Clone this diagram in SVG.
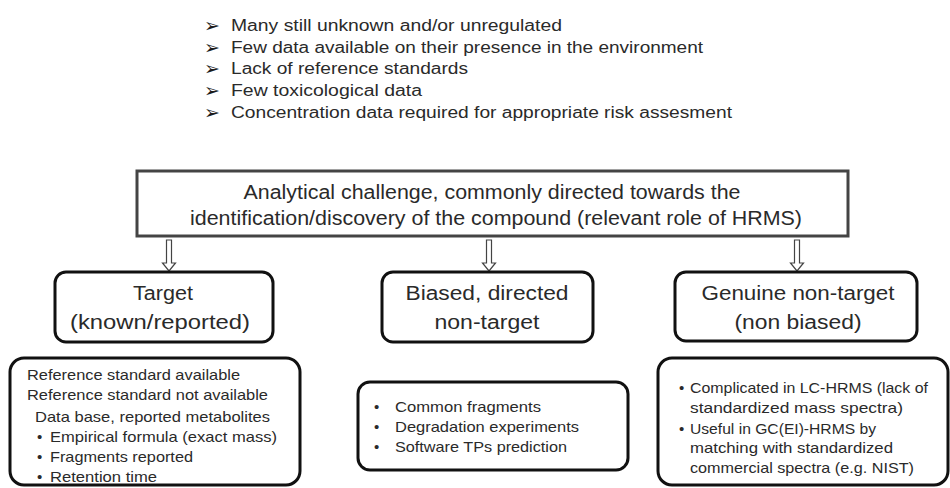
<svg xmlns="http://www.w3.org/2000/svg" width="950" height="488" viewBox="0 0 950 488">
<style>
text{font-family:"Liberation Sans",Arial,sans-serif;fill:#2a2a2a}
.top{font-size:16px}
.main{font-size:20px;text-anchor:middle}
.lvl{font-size:20px;text-anchor:middle}
.det{font-size:15px}
.box{fill:#fff;stroke:#111;stroke-width:3}
.mbox{fill:#fff;stroke:#444;stroke-width:3}
.arr{fill:#fff;stroke:#444;stroke-width:1.2}
.bul{font-family:"DejaVu Sans",sans-serif;font-size:19px;fill:#1a1a1a}
</style>
<rect width="950" height="488" fill="#fff"/>
<g id="intro">
<text class="bul" x="204" y="32">➢</text><text class="top" x="231" y="31" textLength="331" lengthAdjust="spacingAndGlyphs">Many still unknown and/or unregulated</text>
<text class="bul" x="204" y="54">➢</text><text class="top" x="231" y="53" textLength="472" lengthAdjust="spacingAndGlyphs">Few data available on their presence in the environment</text>
<text class="bul" x="204" y="75">➢</text><text class="top" x="231" y="74" textLength="237" lengthAdjust="spacingAndGlyphs">Lack of reference standards</text>
<text class="bul" x="204" y="97">➢</text><text class="top" x="231" y="96" textLength="191" lengthAdjust="spacingAndGlyphs">Few toxicological data</text>
<text class="bul" x="204" y="119">➢</text><text class="top" x="231" y="118" textLength="501" lengthAdjust="spacingAndGlyphs">Concentration data required for appropriate risk assesment</text>
</g>
<g id="challenge">
<rect class="mbox" x="137" y="171" width="711" height="65"/>
<text class="main" x="492" y="199" textLength="497" lengthAdjust="spacingAndGlyphs">Analytical challenge, commonly directed towards the</text>
<text class="main" x="496" y="225" textLength="612" lengthAdjust="spacingAndGlyphs">identification/discovery of the compound (relevant role of HRMS)</text>
</g>
<g id="connectors">
<path class="arr" d="M166.5 240 h5 v23 h4 l-6.5 8 l-6.5 -8 h4 z"/>
<path class="arr" d="M486.5 240 h5 v23 h4 l-6.5 8 l-6.5 -8 h4 z"/>
<path class="arr" d="M794.5 240 h5 v23 h4 l-6.5 8 l-6.5 -8 h4 z"/>
</g>
<g id="target">
<rect class="box" x="55" y="272" width="218" height="70" rx="11"/>
<text class="lvl" x="163" y="300" textLength="60" lengthAdjust="spacingAndGlyphs">Target</text>
<text class="lvl" x="160" y="329" textLength="180" lengthAdjust="spacingAndGlyphs">(known/reported)</text>
</g>
<g id="biased">
<rect class="box" x="382" y="272" width="211" height="70" rx="11"/>
<text class="lvl" x="487" y="300" textLength="163" lengthAdjust="spacingAndGlyphs">Biased, directed</text>
<text class="lvl" x="487" y="329" textLength="105" lengthAdjust="spacingAndGlyphs">non-target</text>
</g>
<g id="genuine">
<rect class="box" x="675" y="272" width="242" height="69" rx="11"/>
<text class="lvl" x="798" y="300" textLength="193" lengthAdjust="spacingAndGlyphs">Genuine non-target</text>
<text class="lvl" x="798" y="329" textLength="127" lengthAdjust="spacingAndGlyphs">(non biased)</text>
</g>
<g id="target-details">
<rect class="box" x="10" y="358" width="290" height="127" rx="14"/>
<text class="det" x="27" y="380" textLength="213" lengthAdjust="spacingAndGlyphs">Reference standard available</text>
<text class="det" x="27" y="400" textLength="241" lengthAdjust="spacingAndGlyphs">Reference standard not available</text>
<text class="det" x="35" y="422" textLength="235" lengthAdjust="spacingAndGlyphs">Data base, reported metabolites</text>
<text class="det" x="37" y="442">•</text><text class="det" x="50" y="442" textLength="227" lengthAdjust="spacingAndGlyphs">Empirical formula (exact mass)</text>
<text class="det" x="37" y="462">•</text><text class="det" x="50" y="462" textLength="143" lengthAdjust="spacingAndGlyphs">Fragments reported</text>
<text class="det" x="37" y="482">•</text><text class="det" x="50" y="482" textLength="107" lengthAdjust="spacingAndGlyphs">Retention time</text>
</g>
<g id="biased-details">
<rect class="box" x="358" y="382" width="270" height="88" rx="12"/>
<text class="det" x="374" y="412">•</text><text class="det" x="395" y="412" textLength="146" lengthAdjust="spacingAndGlyphs">Common fragments</text>
<text class="det" x="374" y="432">•</text><text class="det" x="395" y="432" textLength="184" lengthAdjust="spacingAndGlyphs">Degradation experiments</text>
<text class="det" x="374" y="452">•</text><text class="det" x="395" y="452" textLength="172" lengthAdjust="spacingAndGlyphs">Software TPs prediction</text>
</g>
<g id="genuine-details">
<rect class="box" x="658" y="358" width="290" height="127" rx="14"/>
<text class="det" x="679" y="393">•</text><text class="det" x="690" y="393" textLength="238" lengthAdjust="spacingAndGlyphs">Complicated in LC-HRMS (lack of</text>
<text class="det" x="690" y="413" textLength="213" lengthAdjust="spacingAndGlyphs">standardized mass spectra)</text>
<text class="det" x="679" y="434">•</text><text class="det" x="690" y="434" textLength="186" lengthAdjust="spacingAndGlyphs">Useful in GC(EI)-HRMS by</text>
<text class="det" x="690" y="453" textLength="203" lengthAdjust="spacingAndGlyphs">matching with standardized</text>
<text class="det" x="690" y="473" textLength="224" lengthAdjust="spacingAndGlyphs">commercial spectra (e.g. NIST)</text>
</g>
</svg>
